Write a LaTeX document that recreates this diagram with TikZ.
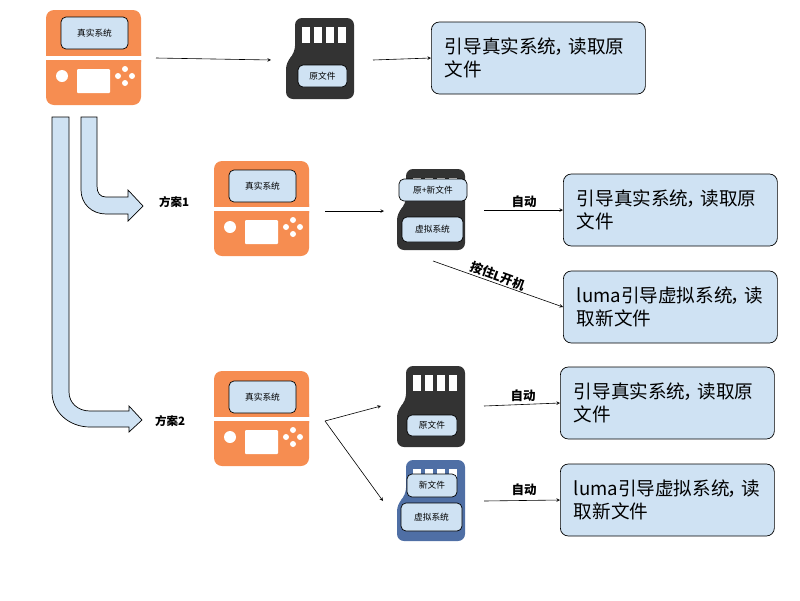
\documentclass[tikz,border=0pt]{standalone}
\usepackage{fontspec}
\setmainfont{Noto Sans CJK SC}
\usetikzlibrary{calc}
\usetikzlibrary{positioning}
\usetikzlibrary{arrows}
\definecolor{boxblue}{HTML}{CFE2F3}
\definecolor{consoleorange}{HTML}{F68D51}
\definecolor{carddark}{HTML}{333333}
\definecolor{cardblue}{HTML}{4F6FA5}
\newcommand{\narrowcomma}{\makebox[12pt][l]{\hspace{-2pt}，}}

\tikzset{
  pics/console/.style={code={
    \fill [consoleorange,rounded corners=8pt] (0,60)--(0,0)--(95,0)--(95,60)--cycle;
    \fill [consoleorange,rounded corners=8pt] (0,35)--(95,35)--(95,95)--(0,95)--cycle;
    \fill [white] (-1,46) rectangle (96,50);
    \fill [white,rounded corners=1pt] (31,59) rectangle (64,83);
    \fill [white] (16,66) circle (6);
    \foreach \dx/\dy in {7/0,-7/0,0/7,0/-7}
      \fill [white] (79+\dx,66+\dy) circle (3);
  }},
  pics/sdcard/.style={code={
    \fill [#1,rounded corners=7pt] (9,0)--(68,0)--(68,81)--(0,81)--(0,44)--(9,35)--cycle;
    \foreach \sx in {16,28,40,52}
      \fill [white] (\sx,9) rectangle +(8,16);
  }},
  pics/sdcard/.default=carddark
}

\begin{document}
\begin{tikzpicture}[x=1pt,y=-1pt,>=stealth,
  label box/.style={draw,fill=boxblue,rounded corners=5pt,line width=0.7pt,font=\fontsize{8.7}{10}\selectfont,inner sep=0pt},
  result box/.style={draw,fill=boxblue,rounded corners=8pt,line width=0.7pt,font=\fontsize{18.6}{23}\selectfont,
    align=left,text width=187pt,minimum height=72pt,inner sep=0pt,inner xsep=13.5pt,anchor=west},
  scheme label/.style={font=\bfseries\fontsize{11.5}{13}\selectfont,inner sep=0pt},
  auto label/.style={font=\bfseries\fontsize{12.5}{14}\selectfont,inner sep=0pt},
  fat arrow/.style={draw,fill=boxblue,line width=0.7pt,line join=miter},
  link/.style={->,line width=0.6pt}]
\useasboundingbox (0,0) rectangle (800,600);

\pic at (46,10) {console};
\pic at (214,161) {console};
\pic at (214,371) {console};
\pic at (286,18) {sdcard};
\pic at (397,169) {sdcard};
\pic at (397,366) {sdcard};
\pic at (397,460) {sdcard=cardblue};

\node [label box,minimum width=67pt,minimum height=32pt] (sys top) at (94.5,33) {真实系统};
\node [label box,minimum width=67pt,minimum height=32pt] (sys one) at (262.5,186) {真实系统};
\node [label box,minimum width=67pt,minimum height=32pt] (sys two) at (262.5,397) {真实系统};
\node [label box,minimum width=49pt,minimum height=22pt] (file top) at (322.5,76) {原文件};
\node [label box,minimum width=68pt,minimum height=22pt] (file one) at (433,190) {原+新文件};
\node [label box,minimum width=61pt,minimum height=25pt] (virt one) at (432.5,229.5) {虚拟系统};
\node [label box,minimum width=50pt,minimum height=21pt] (file two) at (432,425.5) {原文件};
\node [label box,minimum width=50pt,minimum height=23pt] (file new) at (432,485.5) {新文件};
\node [label box,minimum width=61pt,minimum height=28pt] (virt two) at (431.5,517) {虚拟系统};

\node [result box,minimum width=214pt] (res top) at (431,58) {引导真实系统\narrowcomma 读取原\\文件};
\node [result box,minimum width=214pt] (res auto) at (563,210) {引导真实系统\narrowcomma 读取原\\文件};
\node [result box,minimum width=214pt] (res luma) at (563,307) {luma引导虚拟系统\narrowcomma 读\\取新文件};
\node [result box,minimum width=214pt] (res real) at (560,403) {引导真实系统\narrowcomma 读取原\\文件};
\node [result box,minimum width=214pt] (res virt) at (560,500) {luma引导虚拟系统\narrowcomma 读\\取新文件};

\path [fat arrow] (81,117)--(97,117)--(97,186)
  .. controls (97,193) and (100,197) .. (106,197)--(128,197)--(128,190)--(143,206)--(128,221)--(128,214)--(106,214)
  .. controls (92,214) and (81,204) .. (81,190)--cycle;
\path [fat arrow] (52,117)--(69,117)--(69,392)
  .. controls (69,403) and (78,411) .. (90,411)--(129,411)--(129,406)--(142,420)--(129,432)--(129,427)--(90,427)
  .. controls (69,427) and (52,412) .. (52,392)--cycle;

\node [scheme label] (plan one) at (174,202) {方案1};
\node [scheme label] (plan two) at (170,421) {方案2};

\coordinate (top from) at (156,58);
\coordinate (top to) at (271,60);
\coordinate (card from) at (373,60);
\coordinate (one from) at (325,211);
\coordinate (one to) at (384,211);
\coordinate (auto from) at (484,210);
\coordinate (hold from) at (433,261);
\coordinate (two from) at (325,421);
\coordinate (two up) at (381,406);
\coordinate (two down) at (383,501);
\coordinate (real from) at (484,406);
\coordinate (virt from) at (484,501);

\draw [link] (top from) -- (top to);
\draw [link] (card from) -- (res top.west);
\draw [link] (one from) -- (one to);
\draw [link] (auto from) -- (res auto.west);
\draw [link] (hold from) -- (res luma.west);
\draw [link] (two from) -- (two up);
\draw [link] (two from) -- (two down);
\draw [link] (real from) -- (res real.west);
\draw [link] (virt from) -- (res virt.west);

\node [auto label] (auto one) at (524,202) {自动};
\node [auto label,rotate=-20] (hold label) at (498,276) {按住L开机};
\node [auto label] (auto two) at (523,396) {自动};
\node [auto label] (auto three) at (524,490) {自动};
\end{tikzpicture}
\end{document}
